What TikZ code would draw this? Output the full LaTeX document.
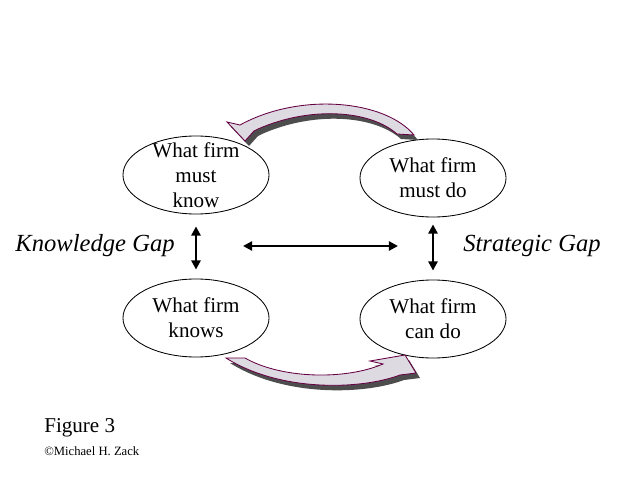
\documentclass[tikz,border=0pt]{standalone}
\usepackage{fontspec}
\setmainfont{Liberation Serif}
\usetikzlibrary{shapes.geometric,arrows.meta}
\definecolor{bendfill}{RGB}{222,218,226}
\definecolor{bendedge}{RGB}{102,0,68}
\definecolor{bendshade}{RGB}{77,77,77}
\tikzset{
  phase/.style={draw, ellipse, line width=0.6pt, minimum width=3.65cm, minimum height=1.95cm, inner sep=0pt},
  phasetext/.style={align=center, inner sep=0pt, font=\fontsize{15}{18}\selectfont},
  gaplabel/.style={inner sep=0pt, font=\fontsize{17.5}{21}\selectfont\itshape},
  gaparrow/.style={line width=1.5pt, {Triangle[width=6.5pt,length=6.5pt]}-{Triangle[width=6.5pt,length=6.5pt]}},
  bendarrow/.style={fill=bendfill, draw=bendedge, line width=0.6pt, line join=miter},
  bendshadow/.style={fill=bendshade, shift={(4,5)}}
}
% outlines of the two bent arrows, in pixels
\newcommand{\upperbend}{(414,135) .. controls (385,100) and (300,92) .. (240,125) -- (227,122) -- (245,141) -- (254,131) -- (258,129) .. controls (310,106) and (370,110) .. (397,134) -- cycle}
\newcommand{\lowerbend}{(245,358) .. controls (280,378) and (340,380) .. (378,366) -- (383,364) -- (370,361) -- (405,355) -- (416,373) -- (400,375) .. controls (360,390) and (280,392) .. (226,358) -- cycle}

\begin{document}
\begin{tikzpicture}[x=0.025cm, y=-0.025cm]
    \useasboundingbox (0,0) rectangle (640,480);
    \fill[white] (0,0) rectangle (640,480);

    % the four states
    \node[phase, label={[phasetext]center:{What firm\\must\\know}}] (mustknow) at (196,175) {};
    \node[phase, label={[phasetext]center:{What firm\\must do}}] (mustdo) at (433,178) {};
    \node[phase, label={[phasetext]center:{What firm\\knows}}] (knows) at (196,318) {};
    \node[phase, label={[phasetext]center:{What firm\\can do}}] (cando) at (433,319) {};

    % gaps
    \node[gaplabel] (kgap) at (95,246) {Knowledge Gap};
    \node[gaplabel] (sgap) at (532,246) {Strategic Gap};
    \coordinate (gapL) at (243,246);
    \coordinate (gapR) at (398,246);
    \draw[gaparrow, shorten <=0.3cm, shorten >=0.225cm] (mustknow) -- (knows);
    \draw[gaparrow, shorten <=0.175cm, shorten >=0.225cm] (mustdo) -- (cando);
    \draw[gaparrow] (gapL) -- (gapR);

    % bent arrows with shadow
    \fill[bendshadow] \upperbend;
    \filldraw[bendarrow] \upperbend;
    \fill[bendshadow] \lowerbend;
    \filldraw[bendarrow] \lowerbend;

    % caption
    \node[anchor=west, inner sep=0pt, font=\fontsize{15}{18}\selectfont] (fig) at (44,428) {Figure 3};
    \node[anchor=west, inner sep=0pt, font=\fontsize{9}{11}\selectfont] (credit) at (44,451) {\textcopyright Michael H. Zack};
\end{tikzpicture}
\end{document}
